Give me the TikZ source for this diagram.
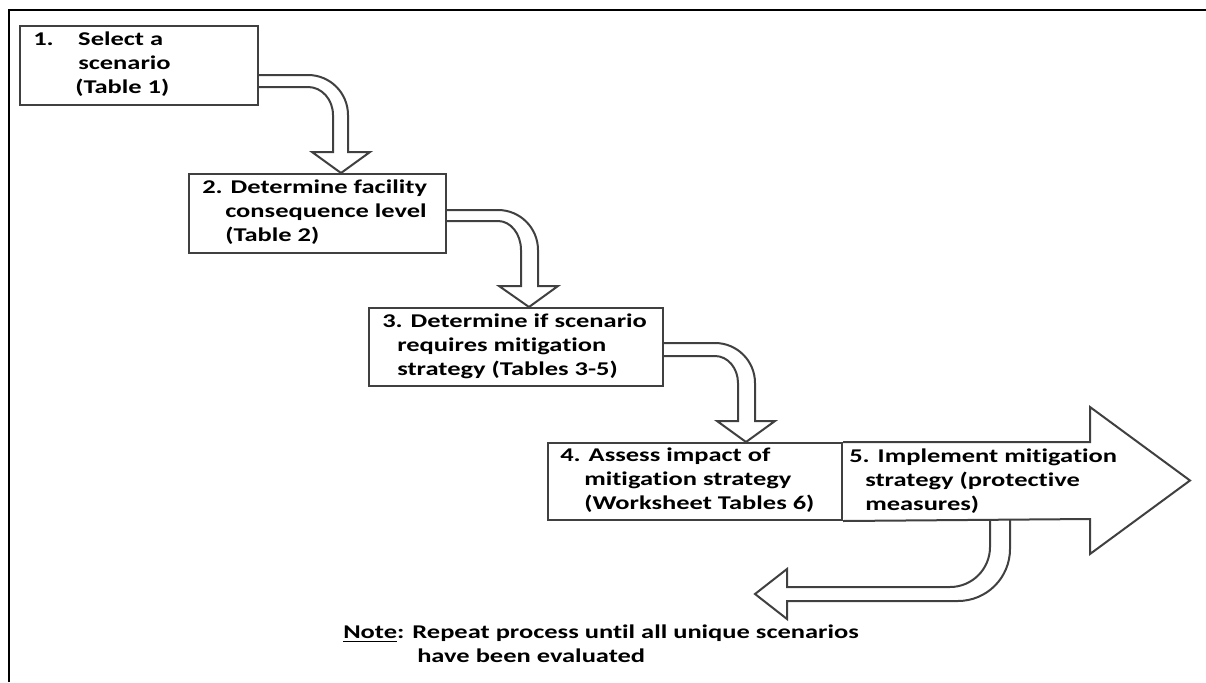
\documentclass[tikz,border=0pt]{standalone}
\usepackage{fontspec}
\newfontfamily\lblfont[FakeStretch=1.36,Ligatures={NoCommon}]{Carlito}
\usetikzlibrary{calc}
\pgfdeclarelayer{background}
\pgfsetlayers{background,main}
\definecolor{boxgray}{HTML}{404040}
\tikzset{
  box/.style={draw=boxgray, fill=white, line width=1.5pt, anchor=north west, inner sep=0pt},
  lbl/.style={anchor=west, inner sep=0pt, align=left, font=\lblfont\bfseries\fontsize{14.6}{18}\selectfont},
  fatarrow/.style={draw=boxgray, fill=white, line width=1.5pt, line join=miter}
}
\begin{document}
\begin{tikzpicture}[x=0.75pt,y=-0.75pt]
\useasboundingbox (0,0) rectangle (1206,682);
% frame
\draw[line width=2.2pt, black] (9,682) -- (9,10) -- (1206,10);

% boxes
\node[box, minimum width=178.5pt, minimum height=59.25pt] (b1) at (19,25) {};
\node[box, minimum width=192.75pt, minimum height=59.25pt] (b2) at (188,173) {};
\node[box, minimum width=220.5pt, minimum height=58.5pt] (b3) at (368,307) {};
\node[box, minimum width=220.5pt, minimum height=57.75pt] (b4) at (547,442) {};

% texts
\node[lbl] (t1) at (33,64.5) {\makebox[33.75pt][l]{1.}Select a\\\hspace*{33.75pt}scenario\\\hspace*{31.5pt}(Table 1)};
\node[lbl] (t2) at (202,212.5) {2. Determine facility\\\hspace*{17.25pt}consequence level\\\hspace*{17.25pt}(Table 2)};
\node[lbl] (t3) at (382,346) {3. Determine if scenario\\\hspace*{11.25pt}requires mitigation\\\hspace*{11.25pt}strategy (Tables 3-5)};
\node[lbl] (t4) at (560,480.5) {4. Assess impact of\\\hspace*{18pt}mitigation strategy\\\hspace*{18pt}(Worksheet Tables 6)};
\node[lbl] (t5) at (849,481) {5. Implement mitigation\\\hspace*{12pt}strategy (protective\\\hspace*{12pt}measures)};
\node[lbl] (note) at (343,644) {\underline{Note}: Repeat process until all unique scenarios\\\hspace*{55.5pt}have been evaluated};

\coordinate (ret) at (755,594);

\begin{pgfonlayer}{background}
% arrow 1 -> 2
\filldraw[fatarrow] ($(b1.north east)+(0,50)$) -- (308,75) arc[start angle=-90,end angle=0,radius=40]
  -- (348,152) -- (370,152) -- ($(b2.north west)+(153,0)$) -- (312,152) -- (333,152) -- (333,115)
  arc[start angle=0,end angle=-90,x radius=25,y radius=28] -- ($(b1.north east)+(0,62)$);
% arrow 2 -> 3
\filldraw[fatarrow] ($(b2.north east)+(0,37)$) -- (498,210) arc[start angle=-90,end angle=0,radius=40]
  -- (538,286) -- (558,286) -- ($(b3.north west)+(161,0)$) -- (499,286) -- (521,286) -- (521,250)
  arc[start angle=0,end angle=-90,x radius=23,y radius=29] -- ($(b2.north east)+(0,48)$);
% arrow 3 -> 4
\filldraw[fatarrow] ($(b3.north east)+(0,36)$) -- (715,343) arc[start angle=-90,end angle=0,radius=40]
  -- (755,421) -- (775,421) -- ($(b4.north west)+(199,0)$) -- (717,421) -- (738,421) -- (738,383)
  arc[start angle=0,end angle=-90,x radius=23,y radius=27] -- ($(b3.north east)+(0,49)$);
% return arrow
\filldraw[fatarrow] (1010,519) -- (1010,549) arc[start angle=0,end angle=90,radius=52]
  -- (787,601) -- (787,619) -- (ret) -- (787,569) -- (787,587) -- (950,587)
  arc[start angle=90,end angle=0,radius=40] -- (990,519);
% big arrow 5
\filldraw[fatarrow] (b4.north east) -- (1090,442) -- (1090,407) -- (1190,480.5) -- (1090,554) -- (1090,519) -- (b4.south east);
\end{pgfonlayer}
\end{tikzpicture}
\end{document}
